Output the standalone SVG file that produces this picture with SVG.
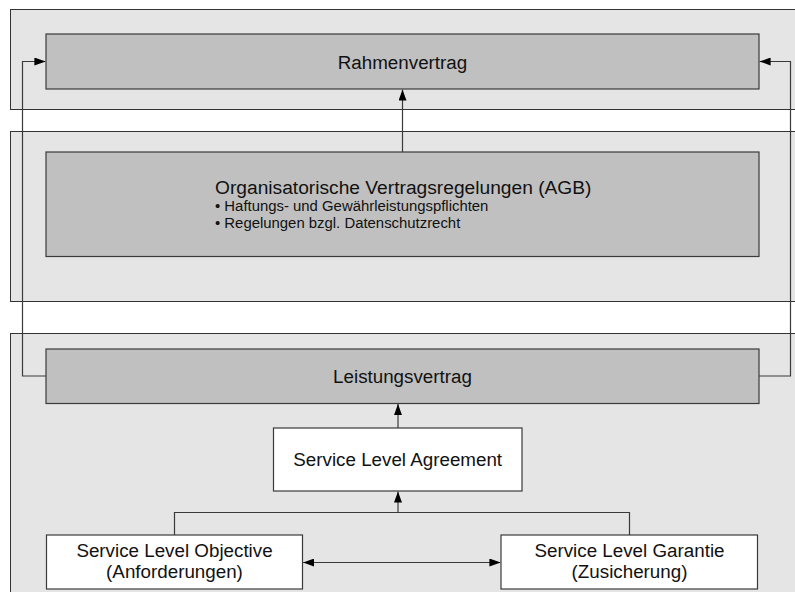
<svg xmlns="http://www.w3.org/2000/svg" width="795" height="592" viewBox="0 0 795 592">
  <style>
    .band { fill: #e5e5e5; stroke: #333333; stroke-width: 1; }
    .grey { fill: #c0c0c0; stroke: #3a3a3a; stroke-width: 1.2; }
    .white { fill: #ffffff; stroke: #3a3a3a; stroke-width: 1.2; }
    .lbl { font-family: "Liberation Sans", Arial, sans-serif; font-size: 18.8px; fill: #111111; text-anchor: middle; }
    .title { font-family: "Liberation Sans", Arial, sans-serif; font-size: 19.2px; fill: #111111; }
    .small { font-family: "Liberation Sans", Arial, sans-serif; font-size: 14.9px; fill: #111111; }
    .conn { fill: none; stroke: #3a3a3a; stroke-width: 1.2; }
  </style>
  <defs>
    <marker id="arrow" viewBox="0 0 11 8" refX="11" refY="4" markerWidth="11" markerHeight="8" markerUnits="userSpaceOnUse" orient="auto-start-reverse">
      <path d="M0,0 L11,4 L0,8 Z" fill="#000000"/>
    </marker>
  </defs>

  <rect width="795" height="592" fill="#ffffff"/>

  <!-- layer bands -->
  <g id="bands">
    <rect class="band" x="10.5" y="9.5" width="800" height="100"/>
    <rect class="band" x="10.5" y="131.5" width="800" height="170"/>
    <rect class="band" x="10.5" y="333.5" width="800" height="270"/>
  </g>

  <g id="rahmenvertrag">
    <rect class="grey" x="46" y="34" width="713" height="55"/>
    <text class="lbl" x="402.5" y="68.5">Rahmenvertrag</text>
  </g>

  <g id="agb">
    <rect class="grey" x="46" y="152" width="713" height="104.5"/>
    <text class="title" x="215" y="194">Organisatorische Vertragsregelungen (AGB)</text>
    <text class="small" x="215" y="211">• Haftungs- und Gewährleistungspflichten</text>
    <text class="small" x="215" y="228">• Regelungen bzgl. Datenschutzrecht</text>
  </g>

  <g id="leistungsvertrag">
    <rect class="grey" x="46" y="349" width="713" height="54.5"/>
    <text class="lbl" x="402.5" y="382.5">Leistungsvertrag</text>
  </g>

  <g id="sla">
    <rect class="white" x="273.5" y="428" width="248.5" height="63"/>
    <text class="lbl" x="397.7" y="466">Service Level Agreement</text>
  </g>

  <g id="slo">
    <rect class="white" x="46.5" y="535" width="256" height="54"/>
    <text class="lbl" x="174.5" y="557">Service Level Objective</text>
    <text class="lbl" x="174.5" y="578">(Anforderungen)</text>
  </g>

  <g id="slg">
    <rect class="white" x="501" y="535" width="256.5" height="54"/>
    <text class="lbl" x="629.5" y="557">Service Level Garantie</text>
    <text class="lbl" x="629.5" y="578">(Zusicherung)</text>
  </g>

  <!-- connectors -->
  <g id="connectors">
    <path class="conn" d="M402.5,152 L402.5,89.6" marker-end="url(#arrow)"/>
    <path class="conn" d="M46,376 L22.5,376 L22.5,61.5 L45.4,61.5" marker-end="url(#arrow)"/>
    <path class="conn" d="M759,376 L790.5,376 L790.5,61.5 L759.6,61.5" marker-end="url(#arrow)"/>
    <path class="conn" d="M398,428 L398,404.1" marker-end="url(#arrow)"/>
    <path class="conn" d="M174.5,535 L174.5,512.5 L629.5,512.5 L629.5,535"/>
    <path class="conn" d="M398,512.5 L398,491.6" marker-end="url(#arrow)"/>
    <path class="conn" d="M303.1,562.5 L500.4,562.5" marker-start="url(#arrow)" marker-end="url(#arrow)"/>
  </g>
</svg>
